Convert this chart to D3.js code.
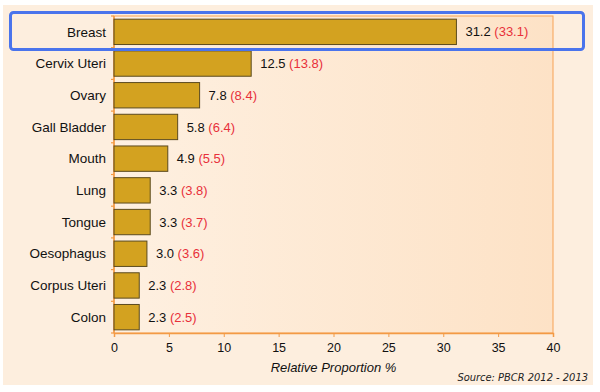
<!DOCTYPE html>
<html>
<head>
<meta charset="UTF-8">
<style>
  body { margin: 0; padding: 0; background: #ffffff; }
  svg { display: block; font-family: "Liberation Sans", Arial, sans-serif; }
</style>
</head>
<body>
<svg id="chart" width="600" height="392"></svg>
<script src="https://d3js.org/d3.v7.min.js"></script>
<script>
// data
const sites = ["Breast", "Cervix Uteri", "Ovary", "Gall Bladder", "Mouth", "Lung", "Tongue", "Oesophagus", "Corpus Uteri", "Colon"];
const proportion = [31.2, 12.5, 7.8, 5.8, 4.9, 3.3, 3.3, 3.0, 2.3, 2.3];
const adjusted = [33.1, 13.8, 8.4, 6.4, 5.5, 3.8, 3.7, 3.6, 2.8, 2.5];
const xTicks = [0, 5, 10, 15, 20, 25, 30, 35, 40];

const rows = sites.map((s, i) => ({ site: s, value: proportion[i], adj: adjusted[i] }));

const margin = { left: 114, right: 47, top: 16, bottom: 59 };
const W = 600, H = 392;
const iw = W - margin.left - margin.right, ih = H - margin.top - margin.bottom;

const svg = d3.select("#chart");
const defs = svg.append("defs");
const grad = defs.append("linearGradient").attr("id", "plotBg")
    .attr("x1", "0%").attr("x2", "100%").attr("y1", "0%").attr("y2", "0%");
grad.append("stop").attr("offset", "0%").attr("stop-color", "#fef0e1");
grad.append("stop").attr("offset", "100%").attr("stop-color", "#fde2c6");

// outer panel
svg.append("rect").attr("x", 3).attr("y", 5).attr("width", 590).attr("height", 380)
    .attr("fill", "#fdeede");

const g = svg.append("g").attr("transform", `translate(${margin.left},${margin.top})`);

const x = d3.scaleLinear().domain([0, 40]).range([0, iw]);
const y = d3.scaleBand().domain(sites).range([0, ih]).paddingInner(0.2).paddingOuter(0.1);

g.append("rect").attr("width", iw).attr("height", ih).attr("fill", "url(#plotBg)")
    .attr("stroke", "#f7a255").attr("stroke-width", 1);

// x axis
const xAxis = g.append("g").attr("transform", `translate(0,${ih})`)
    .call(d3.axisBottom(x).tickValues(xTicks).tickSize(4).tickPadding(6));
xAxis.select(".domain").attr("stroke", "#f39a45").attr("stroke-width", 1.5);
xAxis.selectAll(".tick line").attr("stroke", "#f39a45");
xAxis.selectAll(".tick text").attr("fill", "#111").attr("font-size", 12.5)
    .attr("font-family", "'Liberation Sans', Arial, sans-serif");

// y axis with ticks at band edges
const yAxis = g.append("g");
yAxis.append("line").attr("x1", 0).attr("x2", 0).attr("y1", 0).attr("y2", ih)
    .attr("stroke", "#f39a45").attr("stroke-width", 1.5);
const edges = d3.range(sites.length + 1).map(i => i * y.step());
yAxis.selectAll("line.edge").data(edges).enter().append("line").attr("class", "edge")
    .attr("x1", -3).attr("x2", 0).attr("y1", d => d).attr("y2", d => d)
    .attr("stroke", "#f39a45").attr("stroke-width", 1.2);
yAxis.selectAll("text.cat").data(rows).enter().append("text").attr("class", "cat")
    .attr("x", -8).attr("y", d => y(d.site) + y.bandwidth() / 2)
    .attr("dy", "0.35em").attr("text-anchor", "end")
    .attr("font-size", 13.5).attr("fill", "#111").text(d => d.site);

// bars
g.selectAll("rect.bar").data(rows).enter().append("rect").attr("class", "bar")
    .attr("x", x(0)).attr("y", d => y(d.site))
    .attr("width", d => x(d.value) - x(0)).attr("height", y.bandwidth())
    .attr("fill", "#d3a220").attr("stroke", "#5b4a1e").attr("stroke-width", 1);

// value labels
const lab = g.selectAll("text.val").data(rows).enter().append("text").attr("class", "val")
    .attr("x", d => x(d.value) + 9).attr("y", d => y(d.site) + y.bandwidth() / 2)
    .attr("dy", "0.35em").attr("font-size", 13);
lab.append("tspan").attr("fill", "#111").text(d => d.value.toFixed(1) + " ");
lab.append("tspan").attr("fill", "#e8303a").text(d => "(" + d.adj.toFixed(1) + ")");

// axis title
svg.append("text").attr("x", margin.left + iw / 2).attr("y", 372)
    .attr("text-anchor", "middle").attr("font-size", 13).attr("font-style", "italic")
    .attr("fill", "#111").text("Relative Proportion %");

svg.append("text").attr("x", 588).attr("y", 381)
    .attr("text-anchor", "end").attr("font-size", 11).attr("font-style", "italic")
    .attr("font-family", "'DejaVu Sans Condensed', 'Liberation Sans Narrow', sans-serif")
    .attr("fill", "#222").text("Source: PBCR 2012 - 2013");

// highlight box around the top row
svg.append("rect").attr("x", 10.5).attr("y", 12.5).attr("width", 573).attr("height", 37)
    .attr("rx", 3).attr("fill", "none").attr("stroke", "#4a74ec").attr("stroke-width", 3);
</script>
</body>
</html>
